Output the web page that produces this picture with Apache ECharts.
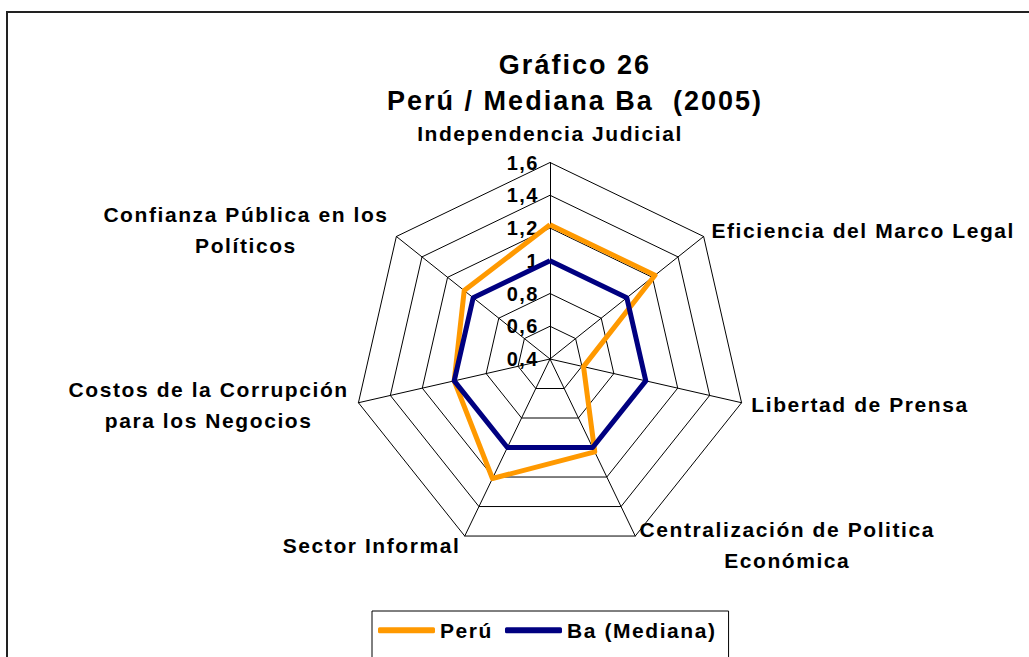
<!DOCTYPE html>
<html>
<head>
<meta charset="utf-8">
<script src="https://cdn.jsdelivr.net/npm/echarts@6/dist/echarts.min.js"></script>
<style>
html,body{margin:0;padding:0;background:#fff;overflow:hidden;}
#chart{width:1029px;height:657px;}
#chart svg text{letter-spacing:0.075em;}
</style>
</head>
<body>
<div id="chart"></div>
<script>
// Categories listed in drawing order (top, then counter-clockwise as ECharts radar places them)
const categories = [
  'Independencia Judicial',
  'Confianza Pública en los\nPolíticos',
  'Costos de la Corrupción\npara los Negocios',
  'Sector Informal',
  'Centralización de Politica\nEconómica',
  'Libertad de Prensa',
  'Eficiencia del Marco Legal'
];
const peru =     [1.22, 1.07, 1.00, 1.21, 1.03, 0.61, 1.22];
const mediana =  [1.00, 1.00, 1.00, 1.00, 1.00, 1.00, 1.00];
const seriesNames = ['Perú', 'Ba (Mediana)'];
const axisMin = 0.4, axisMax = 1.6, axisSplits = 6;
const titleLines = ['Gráfico 26', 'Perú / Mediana Ba  (2005)'];

const FONT = "'Liberation Sans', Arial, sans-serif";
const SPACING_EM = 0.075;

// text measurement that accounts for the CSS letter-spacing applied to SVG text
const measureCtx = document.createElement('canvas').getContext('2d');
echarts.setPlatformAPI({
  measureText: function (text, font) {
    text = text || '';
    font = font || '12px sans-serif';
    measureCtx.font = font;
    const m = measureCtx.measureText(text);
    const fm = /(\d+(?:\.\d+)?)px/.exec(font);
    const size = fm ? parseFloat(fm[1]) : 12;
    return { width: m.width + SPACING_EM * size * text.length };
  }
});

const chart = echarts.init(document.getElementById('chart'), null, { renderer: 'svg' });

const indicator = categories.map((c, i) => {
  const o = { name: c, min: axisMin, max: axisMax };
  if (i === 0) { o.axisLabel = { show: true }; o.nameGap = 14; }
  return o;
});

chart.setOption({
  animation: false,
  backgroundColor: '#fff',
  graphic: [{
    type: 'rect', silent: true, z: -10,
    shape: { x: 7, y: 12, width: 1200, height: 900 },
    style: { fill: 'none', stroke: '#222', lineWidth: 2 }
  }],
  title: {
    text: titleLines.join('\n'),
    left: 570, top: 42, textAlign: 'center',
    textStyle: { fontFamily: FONT, fontWeight: 'bold', fontSize: 27, lineHeight: 36, color: '#000' }
  },
  legend: {
    data: seriesNames,
    left: 372, top: 611,
    orient: 'horizontal',
    icon: 'roundRect',
    itemWidth: 57, itemHeight: 6, itemGap: 12,
    borderColor: '#000', borderWidth: 1,
    padding: [8, 12, 40, 6],
    textStyle: { fontFamily: FONT, fontWeight: 'bold', fontSize: 21, color: '#000' }
  },
  radar: {
    center: [550, 359],
    radius: 196.5,
    startAngle: 90,
    shape: 'polygon',
    splitNumber: axisSplits,
    indicator: indicator,
    nameGap: 10,
    axisName: {
      color: '#000',
      fontFamily: FONT, fontWeight: 'bold', fontSize: 21,
      formatter: function (name) {
        return name.split('\n').map(l => '{a|' + l + '}').join('\n');
      },
      rich: { a: { align: 'center', fontFamily: FONT, fontWeight: 'bold', fontSize: 21, color: '#000', lineHeight: 31 } }
    },
    axisLine: { show: true, lineStyle: { color: '#000', width: 1 } },
    splitLine: { show: true, lineStyle: { color: '#000', width: 1 } },
    splitArea: { show: false },
    axisTick: { show: false },
    axisLabel: {
      show: false, margin: 11,
      color: '#000', fontFamily: FONT, fontWeight: 'bold', fontSize: 20,
      formatter: function (v) { return String(+(+v).toFixed(1)).replace('.', ','); }
    }
  },
  series: [{
    type: 'radar',
    symbol: 'none',
    data: [
      { name: seriesNames[0], value: peru,
        lineStyle: { color: '#FF9900', width: 5 }, itemStyle: { color: '#FF9900' } },
      { name: seriesNames[1], value: mediana,
        lineStyle: { color: '#000080', width: 5 }, itemStyle: { color: '#000080' } }
    ]
  }]
});
</script>
</body>
</html>
